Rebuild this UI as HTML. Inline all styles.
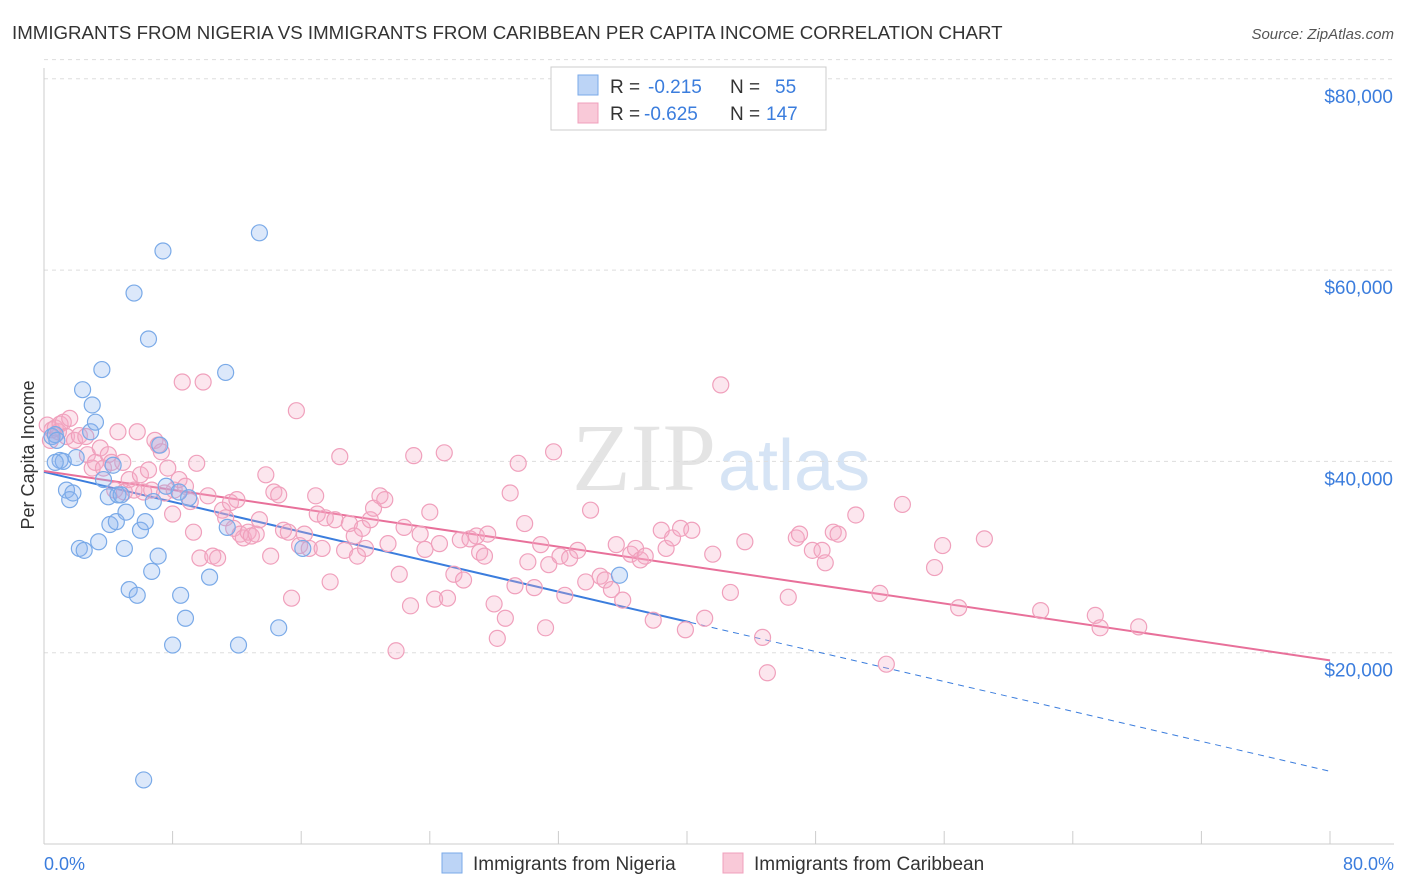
<!DOCTYPE html>
<html><head><meta charset="utf-8"><style>
body{margin:0;background:#fff;font-family:"Liberation Sans",sans-serif;}
svg{display:block}
</style></head><body>
<svg id="chart" width="1406" height="892">
<text x="12" y="39" font-size="18.7" fill="#333">IMMIGRANTS FROM NIGERIA VS IMMIGRANTS FROM CARIBBEAN PER CAPITA INCOME CORRELATION CHART</text>
<text x="1394" y="39" font-size="15" fill="#555" font-style="italic" text-anchor="end">Source: ZipAtlas.com</text>
<text x="716" y="490" font-size="96" fill="#e4e4e4" text-anchor="end" font-family="Liberation Serif">ZIP</text>
<text x="718" y="490" font-size="72" fill="#d6e4f5">atlas</text>
<g id="grid"></g><g id="axes"></g><g id="lines"></g><g id="pts"></g>
<text x="34" y="455" font-size="18" fill="#333" text-anchor="middle" transform="rotate(-90 34 455)">Per Capita Income</text>
<text x="44" y="870" font-size="18" fill="#3b7ddd">0.0%</text>
<text x="1394" y="870" font-size="18" fill="#3b7ddd" text-anchor="end">80.0%</text>
<g>
<rect x="551" y="67" width="275" height="63" fill="#fff" stroke="#ccc"/>
<rect x="578" y="75" width="20" height="20" fill="#bcd4f6" stroke="#7aaae8"/>
<rect x="578" y="103" width="20" height="20" fill="#f9c9d8" stroke="#f0a0bc"/>
<text y="93" font-size="19" fill="#333"><tspan x="610">R =</tspan><tspan x="648" fill="#3b7ddd">-0.215</tspan><tspan x="730">N =</tspan><tspan x="775" fill="#3b7ddd">55</tspan></text>
<text y="120" font-size="19" fill="#333"><tspan x="610">R =</tspan><tspan x="644" fill="#3b7ddd">-0.625</tspan><tspan x="730">N =</tspan><tspan x="766" fill="#3b7ddd">147</tspan></text>
</g>
<g>
<rect x="442" y="853" width="20" height="20" fill="#bcd4f6" stroke="#7aaae8"/>
<text x="473" y="870" font-size="19" fill="#333">Immigrants from Nigeria</text>
<rect x="723" y="853" width="20" height="20" fill="#f9c9d8" stroke="#f0a0bc"/>
<text x="754" y="870" font-size="19" fill="#333">Immigrants from Caribbean</text>
</g>
</svg>
<script>
const yTicks=[20000,40000,60000,80000];
const yTickLabels=["$20,000","$40,000","$60,000","$80,000"];
const xTicks=[0,8,16,24,32,40,48,56,64,72,80];
const nigeriaX=[0.5,0.7,0.8,1.0,1.2,0.7,1.4,1.6,1.8,2.0,2.2,2.5,2.4,2.9,3.0,3.2,3.4,3.6,3.7,4.0,4.1,4.3,4.5,4.6,4.8,5.0,5.1,5.3,5.6,5.8,6.0,6.2,6.3,6.5,6.7,6.8,7.1,7.2,7.4,7.6,8.0,8.4,8.5,8.8,9.0,10.3,11.3,11.4,12.1,13.4,14.6,16.1,35.8];
const nigeriaY=[42.6,42.8,42.2,40.1,40.0,39.9,37.0,36.0,36.7,40.4,30.9,30.7,47.5,43.1,45.9,44.1,31.6,49.6,38.1,36.3,33.4,39.6,33.7,36.5,36.5,30.9,34.7,26.6,57.6,26.0,32.8,6.7,33.7,52.8,28.5,35.8,30.1,41.7,62.0,37.4,20.8,36.8,26.0,23.6,36.2,27.9,49.3,33.1,20.8,63.9,22.6,30.9,28.1];
const caribX=[0.2,0.4,0.5,0.7,0.9,1.0,1.2,1.4,1.6,1.9,2.2,2.6,2.7,3.0,3.2,3.5,3.7,4.0,4.2,4.4,4.6,4.9,5.0,5.3,5.6,5.8,6.0,6.2,6.5,6.7,6.9,7.1,7.3,7.5,7.7,8.0,8.1,8.4,8.6,8.8,9.1,9.3,9.5,9.7,9.9,10.2,10.5,10.8,11.1,11.3,11.6,11.8,12.0,12.2,12.4,12.7,12.9,13.2,13.4,13.8,14.1,14.3,14.6,14.9,15.2,15.4,15.7,15.9,16.2,16.5,16.9,17.0,17.3,17.5,17.8,18.1,18.4,18.7,19.0,19.3,19.5,19.8,20.0,20.3,20.5,20.9,21.2,21.4,21.9,22.1,22.4,22.8,23.0,23.4,23.7,24.0,24.3,24.6,24.9,25.1,25.5,25.9,26.1,26.5,26.9,27.1,27.4,27.6,28.0,28.2,28.7,29.0,29.3,29.5,29.9,30.1,30.5,30.9,31.2,31.4,31.7,32.1,32.4,32.7,33.2,33.7,34.0,34.6,34.9,35.3,35.6,36.0,36.5,36.8,37.1,37.4,37.9,38.4,38.7,39.1,39.6,39.9,40.3,41.1,41.6,42.1,42.7,43.6,44.7,45.0,46.3,46.8,47.0,47.8,48.4,48.6,49.1,49.4,50.5,52.0,52.4,53.4,55.4,55.9,56.9,58.5,62.0,65.4,65.7,68.1];
const caribY=[43.8,42.2,43.3,43.5,43.1,43.9,44.1,42.6,44.5,42.2,42.7,42.6,40.7,39.3,39.9,41.4,39.3,40.7,39.9,37.0,43.1,39.9,36.8,38.1,37.0,43.1,38.6,36.8,39.1,37.0,42.2,41.7,41.0,36.7,39.3,34.5,37.0,38.1,48.3,37.4,35.8,32.6,39.8,29.9,48.3,36.4,30.1,29.9,34.9,34.1,35.7,33.0,36.0,32.4,32.0,32.6,32.2,32.4,33.9,38.6,30.1,36.8,36.5,32.8,32.6,25.7,45.3,31.2,32.4,30.9,36.4,34.5,30.9,34.1,27.4,33.9,40.5,30.7,33.5,32.2,30.1,33.0,30.9,33.9,35.1,36.4,36.0,31.4,20.2,28.2,33.1,24.9,40.6,32.4,30.8,34.7,25.6,31.4,40.9,25.7,28.2,31.8,27.6,31.9,32.2,30.5,30.1,32.4,25.1,21.5,23.6,36.7,27.0,39.8,33.5,29.5,26.8,31.3,22.6,29.2,41.0,30.1,26.0,29.9,30.7,27.4,34.9,28.0,27.6,26.6,31.3,25.5,30.3,30.9,29.7,30.1,23.4,32.8,30.9,32.0,33.0,22.4,32.8,23.6,30.3,48.0,26.3,31.6,21.6,17.9,25.8,32.0,32.4,30.7,30.7,29.4,32.6,32.4,34.4,26.2,18.8,35.5,28.9,31.2,24.7,31.9,24.4,23.9,22.6,22.7];
const nigeriaTrend=[38.9,7.6];const nigeriaSolidEnd=40.2;
const caribTrend=[39.0,19.2];
const X=v=>44+v/80*1286, Y=v=>844-v/20000*191.3, Yk=v=>Y(v*1000);
const NS="http://www.w3.org/2000/svg";
function mk(tag,attrs,parent){const e=document.createElementNS(NS,tag);for(const k in attrs)e.setAttribute(k,attrs[k]);document.getElementById(parent).appendChild(e);return e;}
yTicks.forEach((t,i)=>{
 const l=mk('line',{x1:44,x2:1394,y1:Y(t),y2:Y(t),stroke:'#ddd','stroke-dasharray':'4 4'},'grid');
 
 
 const tx=mk('text',{x:1393,y:Y(t)+24,'font-size':19,fill:'#3b7ddd','text-anchor':'end'},'grid');
 tx.textContent=yTickLabels[i];
 
 
});
const topGrid=mk('line',{x1:44,x2:1394,y1:Y(82000),y2:Y(82000),stroke:'#ddd','stroke-dasharray':'4 4'},'grid');


const ya=mk('line',{x1:44,x2:44,y1:68,y2:844,stroke:'#ccc'},'axes');


const xa=mk('line',{x1:44,x2:1394,y1:844,y2:844,stroke:'#ccc'},'axes');


xTicks.forEach(t=>{
 const l=mk('line',{x1:X(t),x2:X(t),y1:831,y2:844,stroke:'#ccc'},'axes');
 
 
});
const tY=(tr,x)=>tr[0]+(tr[1]-tr[0])*x/80;
const l1=mk('line',{x1:X(0),y1:Yk(tY(nigeriaTrend,0)),x2:X(nigeriaSolidEnd),y2:Yk(tY(nigeriaTrend,nigeriaSolidEnd)),stroke:'#3b7ddd','stroke-width':2},'lines');


const l2=mk('line',{x1:X(nigeriaSolidEnd),y1:Yk(tY(nigeriaTrend,nigeriaSolidEnd)),x2:X(80),y2:Yk(tY(nigeriaTrend,80)),stroke:'#3b7ddd','stroke-width':1,'stroke-dasharray':'6 5'},'lines');


const l3=mk('line',{x1:X(0),y1:Yk(tY(caribTrend,0)),x2:X(80),y2:Yk(tY(caribTrend,80)),stroke:'#e8709a','stroke-width':2},'lines');


caribX.forEach((x,i)=>{
 const c=mk('circle',{cx:X(x),cy:Yk(caribY[i]),r:8,fill:'rgba(246,172,198,0.3)',stroke:'#f0a0bc','stroke-width':1.2},'pts');
 
 
});
nigeriaX.forEach((x,i)=>{
 const c=mk('circle',{cx:X(x),cy:Yk(nigeriaY[i]),r:8,fill:'rgba(140,180,240,0.3)',stroke:'#7aaae8','stroke-width':1.2},'pts');
 
 
});
</script>
</body></html>
